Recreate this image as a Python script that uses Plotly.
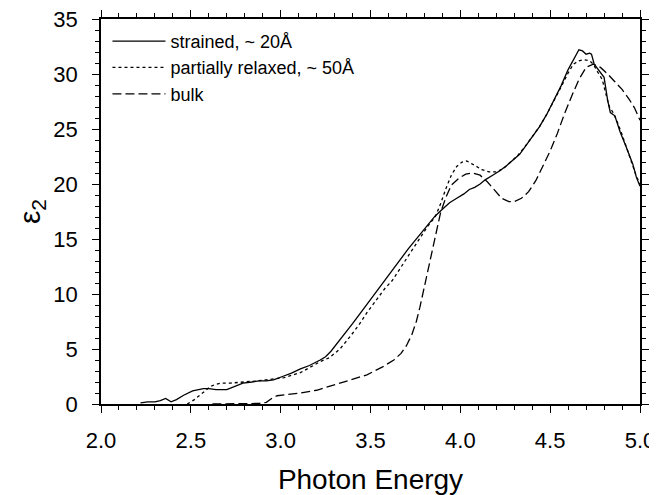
import plotly.graph_objects as go

strained_x = [2.22, 2.26, 2.30, 2.33, 2.36, 2.39, 2.42, 2.46, 2.51, 2.57, 2.60, 2.64, 2.70, 2.75, 2.79, 2.84, 2.88, 2.92, 2.96, 3.01, 3.06, 3.11, 3.16, 3.22, 3.25, 3.28, 3.33, 3.40, 3.45, 3.50, 3.55, 3.60, 3.66, 3.71, 3.76, 3.81, 3.86, 3.90, 3.94, 3.98, 4.02, 4.05, 4.08, 4.11, 4.14, 4.18, 4.22, 4.26, 4.30, 4.33, 4.37, 4.40, 4.44, 4.48, 4.52, 4.56, 4.60, 4.63, 4.66, 4.68, 4.70, 4.72, 4.73, 4.745, 4.76, 4.80, 4.82, 4.835, 4.86, 4.89, 4.925, 4.96, 4.98, 5.0]
strained_y = [0.1, 0.2, 0.2, 0.3, 0.5, 0.2, 0.4, 0.8, 1.2, 1.4, 1.4, 1.3, 1.3, 1.6, 1.9, 2.0, 2.1, 2.1, 2.2, 2.5, 2.8, 3.2, 3.5, 4.0, 4.3, 4.8, 5.8, 7.3, 8.4, 9.5, 10.6, 11.7, 13.1, 14.1, 15.1, 16.1, 17.1, 17.7, 18.3, 18.7, 19.1, 19.5, 19.7, 20.0, 20.4, 20.8, 21.2, 21.7, 22.3, 22.7, 23.6, 24.3, 25.2, 26.3, 27.6, 28.9, 30.4, 31.3, 32.2, 32.1, 31.8, 31.9, 31.8, 30.9, 30.6, 29.7, 27.6, 26.5, 26.2, 24.7, 23.3, 21.8, 20.6, 19.8]

relaxed_x = [2.48, 2.52, 2.55, 2.58, 2.61, 2.64, 2.67, 2.72, 2.77, 2.82, 2.87, 2.92, 2.97, 3.02, 3.07, 3.11, 3.16, 3.22, 3.27, 3.33, 3.39, 3.44, 3.48, 3.53, 3.58, 3.62, 3.66, 3.70, 3.74, 3.78, 3.82, 3.86, 3.89, 3.92, 3.95, 3.98, 4.01, 4.035, 4.06, 4.09, 4.12, 4.16, 4.20, 4.24, 4.28, 4.32, 4.36, 4.40, 4.44, 4.48, 4.52, 4.56, 4.60, 4.63, 4.66, 4.69, 4.72, 4.74, 4.76, 4.79, 4.81, 4.83, 4.85, 4.87, 4.90, 4.93, 4.96, 4.98, 5.0]
relaxed_y = [0.0, 0.4, 0.8, 1.2, 1.6, 1.8, 1.9, 1.9, 1.95, 2.0, 2.1, 2.2, 2.3, 2.4, 2.65, 2.85, 3.3, 3.85, 4.2, 5.0, 6.2, 7.3, 8.3, 9.4, 10.5, 11.2, 12.2, 13.2, 14.2, 15.2, 16.2, 17.0, 18.2, 19.6, 20.8, 21.6, 22.0, 22.1, 21.9, 21.6, 21.3, 21.1, 21.1, 21.4, 22.0, 22.6, 23.4, 24.3, 25.2, 26.3, 27.5, 28.8, 30.1, 30.9, 31.2, 31.3, 31.2, 30.9, 30.3, 29.5, 28.2, 27.0, 26.5, 25.8, 24.5, 23.0, 21.7, 20.7, 20.0]

bulk_x = [2.62, 2.70, 2.80, 2.88, 2.92, 2.95, 2.98, 3.05, 3.11, 3.20, 3.29, 3.38, 3.48, 3.57, 3.63, 3.67, 3.70, 3.73, 3.755, 3.775, 3.80, 3.82, 3.85, 3.87, 3.89, 3.92, 3.95, 3.99, 4.03, 4.07, 4.11, 4.15, 4.19, 4.23, 4.27, 4.30, 4.34, 4.38, 4.42, 4.46, 4.50, 4.54, 4.58, 4.62, 4.66, 4.70, 4.74, 4.78, 4.82, 4.86, 4.90, 4.94, 4.97, 5.0]
bulk_y = [0.0, 0.02, 0.05, 0.05, 0.15, 0.5, 0.75, 0.85, 1.0, 1.25, 1.7, 2.1, 2.65, 3.4, 4.0, 4.6, 5.3, 6.3, 7.5, 8.8, 10.7, 12.2, 14.5, 16.1, 17.4, 18.8, 19.9, 20.5, 20.9, 21.0, 20.8, 20.2, 19.4, 18.7, 18.4, 18.4, 18.7, 19.3, 20.3, 21.6, 23.0, 24.6, 26.4, 28.0, 29.5, 30.6, 30.9, 30.6, 30.0, 29.3, 28.6, 27.7, 26.9, 25.8]

series_names = ["strained, ~ 20Å", "partially relaxed, ~ 50Å", "bulk"]

FONT = "Arial, Liberation Sans, sans-serif"

fig = go.Figure()
fig.add_trace(go.Scatter(x=strained_x, y=strained_y, mode="lines", name=series_names[0],
                         line=dict(color="black", width=1.3, dash="solid")))
fig.add_trace(go.Scatter(x=relaxed_x, y=relaxed_y, mode="lines", name=series_names[1],
                         line=dict(color="black", width=1.3, dash="dot")))
fig.add_trace(go.Scatter(x=bulk_x, y=bulk_y, mode="lines", name=series_names[2],
                         line=dict(color="black", width=1.3, dash="9px,4px")))

axis_common = dict(
    showline=True, linecolor="black", linewidth=1.5, mirror="allticks",
    ticks="outside", ticklen=7, tickwidth=1.3, tickcolor="black",
    showgrid=False, zeroline=False, automargin=False,
    ticklabeloverflow="allow",
    tickfont=dict(family=FONT, size=22, color="black"),
)

fig.update_xaxes(range=[2.0, 5.0], dtick=0.5, tick0=2.0, tickformat=".1f",
                 minor=dict(dtick=0.1, ticks="outside", ticklen=4, tickcolor="black", tickwidth=1),
                 title=dict(text="Photon Energy", font=dict(family=FONT, size=28, color="black"), standoff=20),
                 ticklabelstandoff=9,
                 **axis_common)
fig.update_yaxes(range=[0, 35], dtick=5, tick0=0,
                 minor=dict(dtick=1, ticks="outside", ticklen=4, tickcolor="black", tickwidth=1),
                 title=dict(text="ε<sub>2</sub>", font=dict(family=FONT, size=30, color="black"), standoff=4),
                 ticklabelstandoff=10,
                 **axis_common)

fig.update_layout(
    width=649, height=487,
    margin=dict(l=93, r=17, t=11, b=91),
    paper_bgcolor="white", plot_bgcolor="white",
    font=dict(family=FONT, color="black"),
    showlegend=True,
    legend=dict(x=0.012, y=0.99, xanchor="left", yanchor="top",
                bgcolor="rgba(0,0,0,0)", font=dict(family=FONT, size=18, color="black"),
                tracegroupgap=0, itemwidth=53),
)

fig.write_html("out.html")
